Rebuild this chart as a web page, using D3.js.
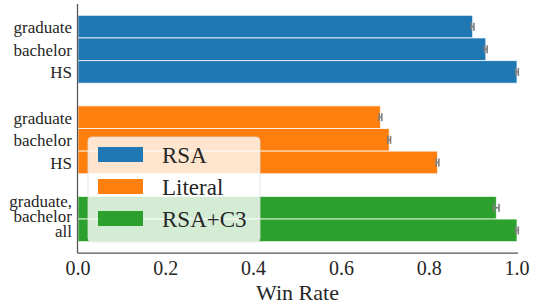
<!DOCTYPE html>
<html>
<head>
<meta charset="utf-8">
<script src="https://cdn.jsdelivr.net/npm/d3@7"></script>
<style>
  body { margin: 0; background: #fff; }
  text { font-family: "Liberation Serif", "DejaVu Serif", serif; fill: #262626; }
</style>
</head>
<body>
<div id="chart"></div>
<script>
var svgWidth = 536;
var svgHeight = 307;

// plot area edges
var margin = { top: 4, right: 18, bottom: 54, left: 78 };
var width = svgWidth - margin.left - margin.right;
var height = svgHeight - margin.top - margin.bottom;

// data
var series = ["RSA", "Literal", "RSA+C3"];
var colors = ["#1f77b4", "#ff7f0e", "#2ca02c"];
var rsaLabels = ["graduate", "bachelor", "HS"];
var rsaValues = [0.899, 0.929, 1.0];
var rsaErrors = [0.003, 0.003, 0.003];
var literalLabels = ["graduate", "bachelor", "HS"];
var literalValues = [0.689, 0.709, 0.819];
var literalErrors = [0.003, 0.003, 0.003];
var c3Labels = ["graduate,\nbachelor", "all"];
var c3Values = [0.953, 1.0];
var c3Errors = [0.006, 0.003];
var xTicks = [0.0, 0.2, 0.4, 0.6, 0.8, 1.0];

// build rows with an empty row between groups
var rows = [];
var groups = [
    [rsaLabels, rsaValues, rsaErrors],
    [literalLabels, literalValues, literalErrors],
    [c3Labels, c3Values, c3Errors]
];
var pos = 0;
groups.forEach(function(g, gi) {
    g[0].forEach(function(lab, i) {
        rows.push({ label: lab, value: g[1][i], err: g[2][i], group: gi, pos: pos });
        pos++;
    });
    pos++;
});

// one entry per label line
var labelLines = [];
rows.forEach(function(r) {
    var lines = r.label.split("\n");
    lines.forEach(function(l, i) {
        labelLines.push({ text: l, pos: r.pos, line: i, n: lines.length });
    });
});

var svg = d3.select("#chart").append("svg")
    .attr("width", svgWidth)
    .attr("height", svgHeight);

var chartGroup = svg.append("g")
    .attr("transform", `translate(${margin.left}, ${margin.top})`);

var xScale = d3.scaleLinear().domain([0, 1]).range([0, 439]);
var yScale = d3.scaleLinear().domain([-1, 10]).range([0, height]);

var barH = yScale(0.5) - yScale(-0.5);

// bars
chartGroup.selectAll(".bar")
    .data(rows)
    .enter()
    .append("rect")
    .attr("x", 0)
    .attr("y", d => yScale(d.pos - 0.5))
    .attr("width", d => xScale(d.value))
    .attr("height", barH)
    .attr("fill", d => colors[d.group])
    .attr("stroke", "#fff")
    .attr("stroke-opacity", 0.75)
    .attr("stroke-width", 1);

// error bars
var errs = chartGroup.selectAll(".err")
    .data(rows)
    .enter()
    .append("g")
    .attr("stroke", "#7f7f7f")
    .attr("stroke-width", 1.6);
errs.append("line")
    .attr("x1", d => xScale(d.value - d.err))
    .attr("x2", d => xScale(d.value + d.err))
    .attr("y1", d => yScale(d.pos))
    .attr("y2", d => yScale(d.pos));
errs.append("line")
    .attr("x1", d => xScale(d.value - d.err))
    .attr("x2", d => xScale(d.value - d.err))
    .attr("y1", d => yScale(d.pos) - 4)
    .attr("y2", d => yScale(d.pos) + 4);
errs.append("line")
    .attr("x1", d => xScale(d.value + d.err))
    .attr("x2", d => xScale(d.value + d.err))
    .attr("y1", d => yScale(d.pos) - 4)
    .attr("y2", d => yScale(d.pos) + 4);

// y tick labels
chartGroup.selectAll(".ylab")
    .data(labelLines)
    .enter()
    .append("text")
    .attr("class", "ylab")
    .attr("x", -6)
    .attr("y", function(d) {
        if (d.n > 1) return yScale(d.pos) - 1 + d.line * 15;
        return yScale(d.pos) + 6.5;
    })
    .attr("text-anchor", "end")
    .style("font-family", "'Liberation Serif', serif")
    .style("font-size", "17px")
    .text(d => d.text);

// spines
chartGroup.append("line")
    .attr("x1", -0.5).attr("x2", -0.5)
    .attr("y1", 0).attr("y2", height)
    .attr("stroke", "#555").attr("stroke-width", 1.25);
chartGroup.append("line")
    .attr("x1", -0.5).attr("x2", width)
    .attr("y1", height).attr("y2", height)
    .attr("stroke", "#555").attr("stroke-width", 1.25);

// x tick labels
chartGroup.selectAll(".xtick")
    .data(xTicks)
    .enter()
    .append("text")
    .attr("x", d => xScale(d))
    .attr("y", height + 22)
    .attr("text-anchor", "middle")
    .attr("font-size", "20px")
    .text(d => d.toFixed(1));

// x axis label
chartGroup.append("text")
    .attr("x", xScale(0.5))
    .attr("y", height + 47)
    .attr("text-anchor", "middle")
    .attr("font-size", "22px")
    .text("Win Rate");

// legend
var legend = chartGroup.append("g")
    .attr("transform", "translate(10, 133)");
legend.append("rect")
    .attr("width", 172)
    .attr("height", 105)
    .attr("rx", 4)
    .attr("fill", "#fff")
    .attr("fill-opacity", 0.8)
    .attr("stroke", "#ddd")
    .attr("stroke-opacity", 0.8);
var items = legend.selectAll(".item")
    .data(series)
    .enter()
    .append("g")
    .attr("transform", (d, i) => `translate(10, ${10 + i * 32})`);
items.append("rect")
    .attr("width", 45)
    .attr("height", 15)
    .attr("fill", (d, i) => colors[i]);
items.append("text")
    .attr("x", 64)
    .attr("y", 16)
    .attr("font-size", "23px")
    .text(d => d);
</script>
</body>
</html>
